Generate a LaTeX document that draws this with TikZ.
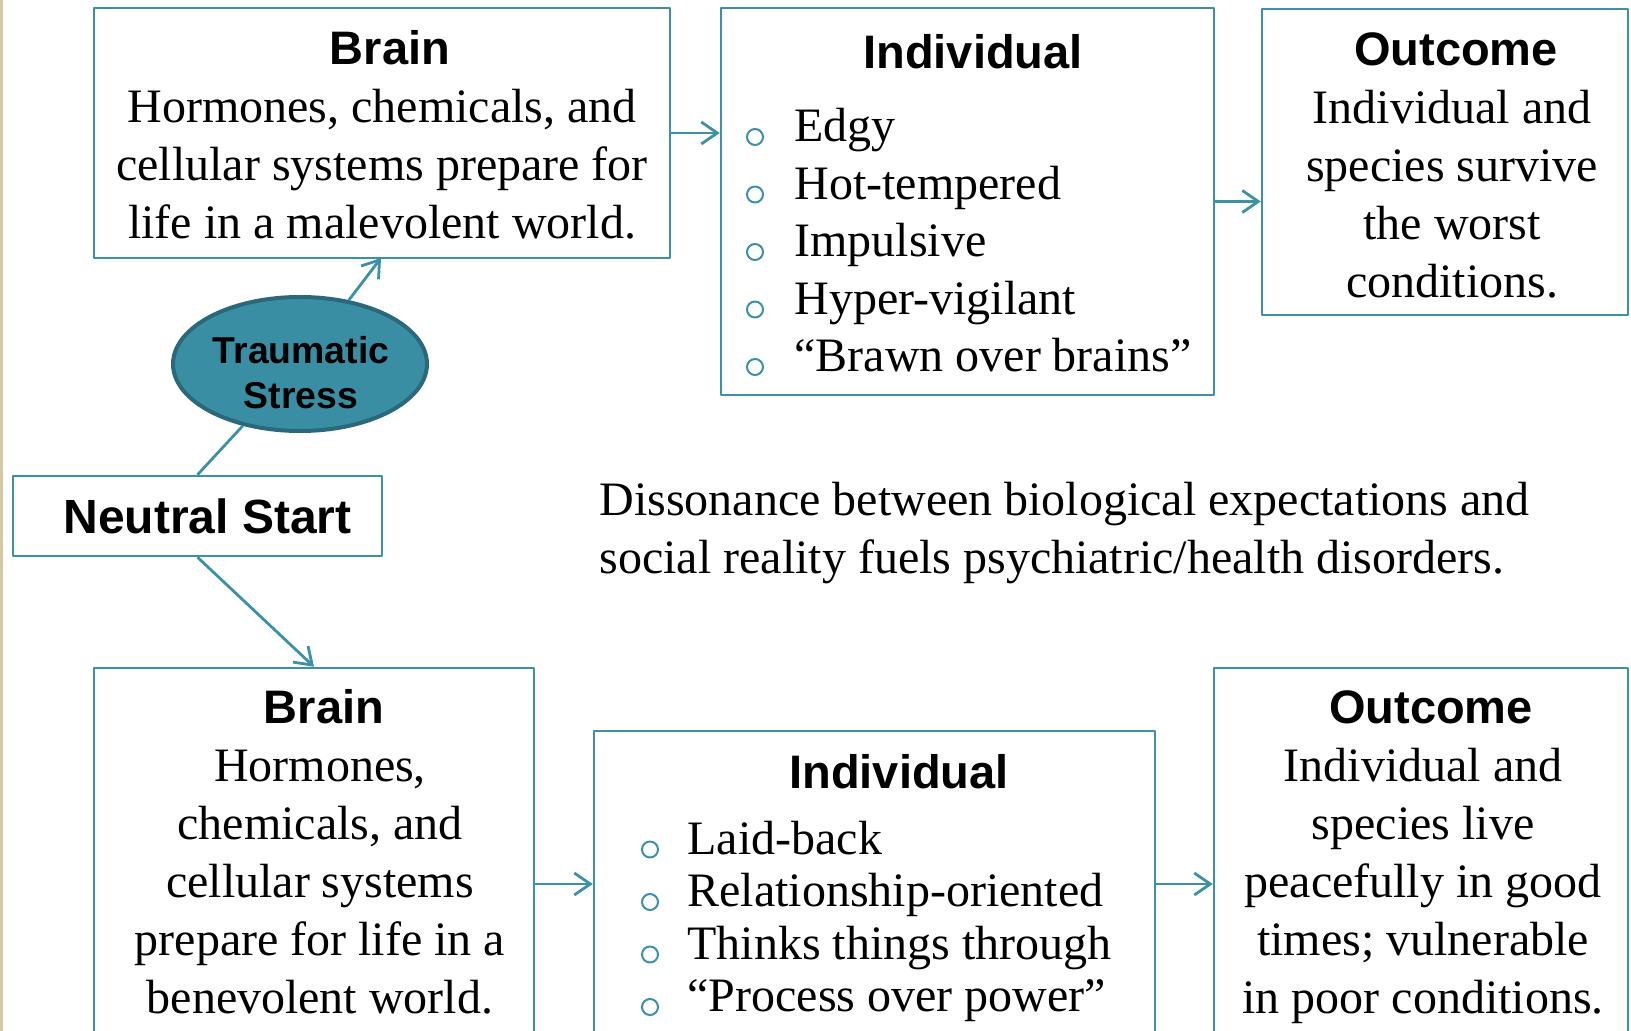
\documentclass[tikz,border=0pt]{standalone}
\usepackage{fontspec}
\setmainfont{Liberation Serif}
\setsansfont{Liberation Sans}
\usetikzlibrary{shapes.geometric,arrows.meta}

\definecolor{edge}{RGB}{60,145,168}
\definecolor{stressfill}{RGB}{58,142,164}
\definecolor{stressline}{RGB}{42,104,122}
\definecolor{paper}{RGB}{214,200,166}

\tikzset{
  box/.style={rectangle, draw=edge, line width=1.25pt, inner sep=0pt},
  head/.style={font=\sffamily\bfseries\fontsize{23.5}{29}\selectfont, inner sep=0pt},
  body/.style={font=\fontsize{24}{29}\selectfont, align=center, inner sep=0pt},
  item/.style={font=\fontsize{24}{29}\selectfont, anchor=mid west, inner sep=0pt},
  dot/.style={circle, draw=edge, line width=1pt, minimum size=8pt, inner sep=0pt},
  link/.style={draw=edge, line width=1.4pt, ->}
}

\begin{document}
\begin{tikzpicture}[x=0.5pt,y=-0.5pt, line join=round, >={Straight Barb[length=8pt,width=11pt]}]
    \clip (0,0) rectangle (1631,1031);
    \fill[paper] (0,0) rectangle (3,1031);
    % upper path
    \node[box, minimum width=288pt, minimum height=125pt] (tbrain) at (382,133) {};
    \node[body] (tbraintxt) at (382,135) {{\sffamily\bfseries\fontsize{23.5}{29}\selectfont\hspace*{8pt}Brain}\\Hormones, chemicals, and\\cellular systems prepare for\\life in a malevolent world.};
    \node[box, minimum width=246.5pt, minimum height=193.5pt] (tind) at (967.5,201.5) {};
    \node[head] (tindhead) at (973,52) {Individual};
    \foreach \t [count=\i] in {Edgy,Hot-tempered,Impulsive,Hyper-vigilant,``Brawn over brains''}{
        \node[dot] (tdot\i) at (755,{137+57.5*(\i-1)}) {};
        \node[item] (titem\i) at (794,{137+57.5*(\i-1)}) {\t};
    }
    \node[box, minimum width=183pt, minimum height=153pt] (tout) at (1445,162) {};
    \node[body] (touttxt) at (1452,165) {{\sffamily\bfseries\fontsize{23.5}{29}\selectfont\hspace*{4pt}Outcome}\\Individual and\\species survive\\the worst\\conditions.};
    % start and stress
    \node[ellipse, fill=stressfill, draw=stressline, line width=2pt, minimum width=127pt, minimum height=67pt] (stress) at (300,364) {};
    \node[align=center, inner sep=0pt, font=\sffamily\bfseries\fontsize{18.7}{22.5}\selectfont] (stresstxt) at (301,373) {Traumatic\\Stress};
    \node[box, minimum width=184.5pt, minimum height=40pt, font=\sffamily\bfseries\fontsize{24}{29}\selectfont] (neutral) at (197.5,516) {\hspace*{10pt}Neutral Start};
    \node[anchor=west, align=left, inner sep=0pt, font=\fontsize{24}{29}\selectfont] (dissonance) at (599,533)
        {Dissonance between biological expectations and\\social reality fuels psychiatric/health disorders.};
    % lower path
    \node[box, minimum width=220pt, minimum height=216pt] (bbrain) at (314,884) {};
    \node[body] (bbraintxt) at (320,852) {{\sffamily\bfseries\fontsize{23.5}{29}\selectfont\hspace*{4pt}Brain}\\Hormones,\\chemicals, and\\cellular systems\\prepare for life in a\\benevolent world.};
    \node[box, minimum width=280.5pt, minimum height=184.5pt] (bind) at (874.5,915.5) {};
    \node[head] (bindhead) at (899,772) {Individual};
    \foreach \t [count=\i] in {Laid-back,Relationship-oriented,Thinks things through,``Process over power''}{
        \node[dot] (bdot\i) at (650,{849.5+52.5*(\i-1)}) {};
        \node[item] (bitem\i) at (687,{849.5+52.5*(\i-1)}) {\t};
    }
    \node[box, minimum width=207pt, minimum height=216pt] (bout) at (1421,884) {};
    \node[body] (bouttxt) at (1423,857) {{\sffamily\bfseries\fontsize{23.5}{29}\selectfont\hspace*{8pt}Outcome}\\Individual and\\species live\\peacefully in good\\times; vulnerable\\in poor conditions.};
    % connectors
    \draw[link] (tbrain.east) -- (tbrain.east -| tind.west);
    \draw[link] (tind.east) -- (tind.east -| tout.west);
    \coordinate (tbrainfoot) at (381,258);
    \draw[link] (stress) -- (tbrainfoot);
    \draw[link, -] (neutral.north) -- (stress);
    \draw[link] (neutral.south) -- (bbrain.north);
    \draw[link] (bbrain.east) -- (bbrain.east -| bind.west);
    \draw[link] (bbrain.east -| bind.east) -- (bbrain.east -| bout.west);
\end{tikzpicture}
\end{document}
